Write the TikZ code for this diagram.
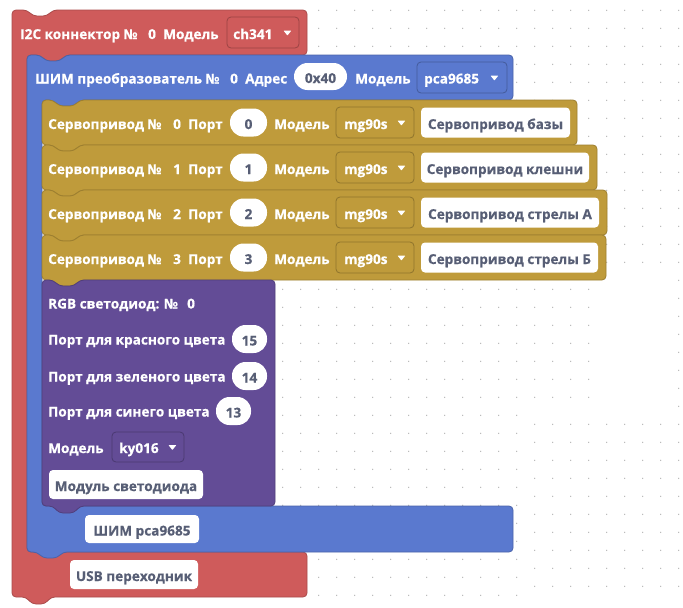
\documentclass[tikz,border=0pt]{standalone}
\usepackage{fontspec}
\setmainfont{Open Sans}[BoldFeatures={FakeBold=0.4}]
\usetikzlibrary{calc}
\definecolor{cred}{HTML}{CF5B5B}
\definecolor{cblue}{HTML}{5A79CF}
\definecolor{cgold}{HTML}{BF9B3B}
\definecolor{cpurp}{HTML}{634C96}
\definecolor{ctext}{HTML}{575E75}
\definecolor{dotc}{HTML}{B4B4B4}
\newcommand\blkfont{\bfseries\fontsize{13.6}{15}\selectfont}
\begin{document}
\begin{tikzpicture}[x=1pt,y=-1pt,
  blk/.style={fill=#1, draw=#1!82!black, line width=0.8pt, rounded corners=4pt},
  lbl/.style={anchor=base west, inner sep=0pt, text=white, font=\blkfont},
  tf/.style={fill=white, rounded corners=4pt, inner sep=0pt, text=ctext, font=\blkfont, text height=13pt, text depth=0pt},
  pill/.style={tf, rounded corners=13.5pt},
  dd/.style={fill=#1, draw=#1!75!black, line width=0.8pt, rounded corners=4pt, inner sep=0pt},
  dot/.style={fill=dotc}]
\useasboundingbox (0,0) rectangle (683,608);
\fill[white] (0,0) rectangle (683,608);
% dot grid
\foreach \i in {0,...,20} \foreach \j in {0,...,14}
  \fill[dot] ({318.7+18*\i},{10.3+18*\j}) circle (0.7);
\foreach \j in {15,...,32} \fill[dot] (678.7,{10.3+18*\j}) circle (0.7);
\foreach \i in {0,...,7} \foreach \j in {0,...,9}
  \fill[dot] ({534.7+18*\i},{424.3+18*\j}) circle (0.7);
\foreach \i in {0,...,17} \foreach \j in {0,...,6}
  \fill[dot] ({282.7+18*\i},{289.3+18*\j}) circle (0.7);
\foreach \i in {0,...,13} \foreach \j in {7,...,17}
  \fill[dot] ({282.7+18*\i},{289.3+18*\j}) circle (0.7);
% red block
\draw[blk=cred] (12,10) -- (27,10) -- (33,16) -- (47,16) -- (53,10) -- (307,10) -- (307,55)
  -- (66,55) -- (60,61) -- (46,61) -- (40,55) -- (27,55) -- (27,552) -- (307,552) -- (307,597)
  -- (51,597) -- (45,604) -- (32,604) -- (26,597) -- (12,597) -- cycle;
% blue block
\draw[blk=cblue] (27,55) -- (40,55) -- (46,61) -- (60,61) -- (66,55) -- (513,55) -- (513,100)
  -- (80,100) -- (74,106) -- (59,106) -- (53,100) -- (42,100) -- (42,506) -- (513,506) -- (513,552)
  -- (63,552) -- (57,558) -- (43,558) -- (37,552) -- (27,552) -- cycle;
% gold blocks
\foreach \t/\b/\r in {100/145/577, 145/190/597, 190/235/607, 235/280/606}
  \draw[blk=cgold] (42,\t) -- (53,\t) -- (59,\t+6) -- (74,\t+6) -- (80,\t) -- (\r,\t) -- (\r,\b)
    -- (80,\b) -- (74,\b+6) -- (59,\b+6) -- (53,\b) -- (42,\b) -- cycle;
% purple block
\draw[blk=cpurp] (42,280) -- (53,280) -- (59,286) -- (74,286) -- (80,280) -- (275,280) -- (275,506)
  -- (80,506) -- (74,513) -- (59,513) -- (53,506) -- (42,506) -- cycle;

% ---- red row
\node[lbl] (r1) at (20,39) {I2C коннектор №};
\node[lbl] (r2) at (148,39) {0};
\node[lbl] (r3) at (163,39) {Модель};
\node[dd=cred, minimum width=72pt, minimum height=31pt] (rd) at (263,32.5) {};
\node[lbl] (rdt) at (233,39) {ch341};
\fill[white, rounded corners=0.6pt] ($(rd.east)+(-16,-2)$) -- ++(8,0) -- ++(-4,5) -- cycle;

% ---- blue row
\node[lbl] (b1) at (35,83.5) {ШИМ преобразователь №};
\node[lbl] (b2) at (230,83.5) {0};
\node[lbl] (b3) at (245,83.5) {Адрес};
\node[pill, minimum width=53pt, minimum height=27pt] (bp) at (320.5,76.5) {0x40};
\node[lbl] (b4) at (355,83.5) {Модель};
\node[dd=cblue, minimum width=90pt, minimum height=31pt] (bd) at (462,77.5) {};
\node[lbl] (bdt) at (424,83.5) {pca9685};
\fill[white, rounded corners=0.6pt] ($(bd.east)+(-17,-2)$) -- ++(8,0) -- ++(-4,5) -- cycle;

% ---- gold rows
\foreach \n/\c/\tx/\xr in {0/122.5/Сервопривод базы/570, 1/167.5/Сервопривод клешни/589, 2/212.5/Сервопривод стрелы А/599, 3/257.5/Сервопривод стрелы Б/598}{
  \node[lbl] (g\n a) at (48,\c+6.5) {Сервопривод №};
  \node[lbl] (g\n b) at (173,\c+6.5) {\n};
  \node[lbl] (g\n c) at (188,\c+6.5) {Порт};
  \node[pill, minimum width=37pt, minimum height=28pt] (g\n p) at (248.5,\c) {\n};
  \node[lbl] (g\n d) at (274,\c+6.5) {Модель};
  \node[dd=cgold, minimum width=78pt, minimum height=31pt] (g\n dd) at (375,\c) {};
  \node[lbl] (g\n ddt) at (344,\c+6.5) {mg90s};
  \fill[white, rounded corners=0.6pt] ($(g\n dd.east)+(-17,-2)$) -- ++(8,0) -- ++(-4,5) -- cycle;
  \node[tf, minimum width={\xr-421}, minimum height=30pt] (g\n t) at ({(421+\xr)/2},\c) {\tx};
}

% ---- purple block
\node[lbl] (p1) at (48,308.5) {RGB светодиод: №};
\node[lbl] (p2) at (187,308.5) {0};
\node[lbl] (p3) at (48,344.5) {Порт для красного цвета};
\node[pill, minimum width=35pt, minimum height=28pt] (pp1) at (249.5,339) {15};
\node[lbl] (p4) at (48,381.5) {Порт для зеленого цвета};
\node[pill, minimum width=35pt, minimum height=28pt] (pp2) at (249.5,376) {14};
\node[lbl] (p5) at (48,416.5) {Порт для синего цвета};
\node[pill, minimum width=35pt, minimum height=28pt] (pp3) at (233.5,411) {13};
\node[lbl] (p6) at (48,453) {Модель};
\node[dd=cpurp, minimum width=72pt, minimum height=30pt] (pd) at (148,447) {};
\node[lbl] (pdt) at (119,453) {ky016};
\fill[white, rounded corners=0.6pt] ($(pd.east)+(-16,-2)$) -- ++(8,0) -- ++(-4,5) -- cycle;
\node[tf, minimum width=154pt, minimum height=29pt] (pt) at (126,484.5) {Модуль светодиода};

% ---- bottom arms
\node[tf, minimum width=114pt, minimum height=28pt] (bt) at (142,529) {ШИМ pca9685};
\node[tf, minimum width=128pt, minimum height=29pt] (rt) at (134,574.5) {USB переходник};
\end{tikzpicture}
\end{document}
